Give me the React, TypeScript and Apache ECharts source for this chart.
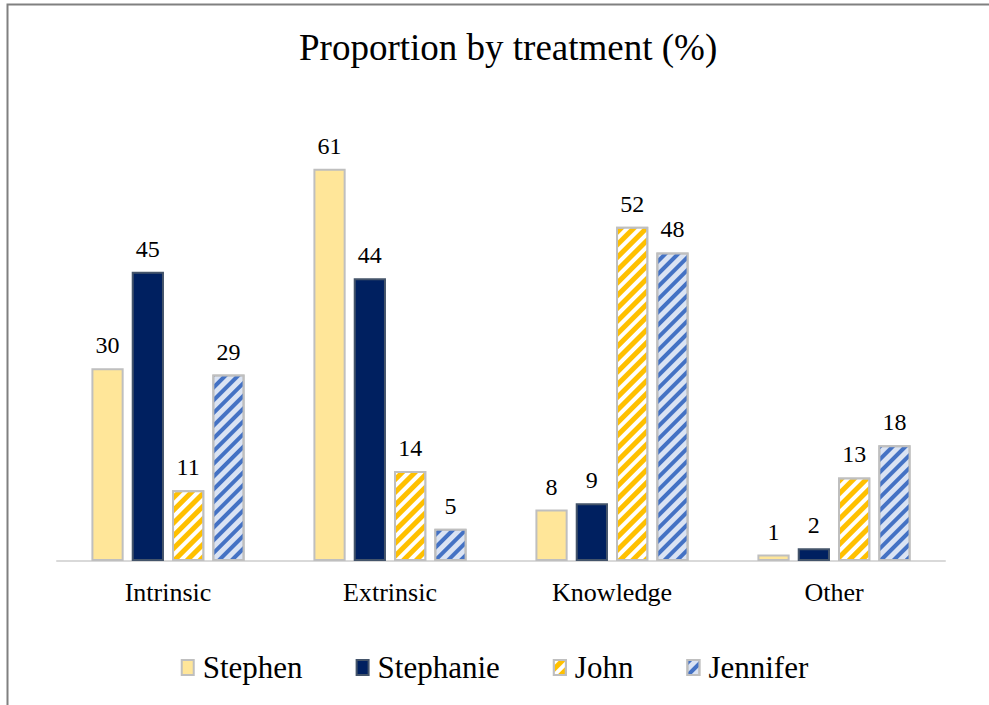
import React, { useEffect, useRef } from "react";
import * as echarts from "echarts";

const categories = ["Intrinsic", "Extrinsic", "Knowledge", "Other"];
const seriesNames = ["Stephen", "Stephanie", "John", "Jennifer"];
const stephen = [30, 61, 8, 1];
const stephanie = [45, 44, 9, 2];
const john = [11, 14, 52, 13];
const jennifer = [29, 5, 48, 18];

const FONT = "Liberation Serif, Times New Roman, serif";

export default function App() {
  const ref = useRef<HTMLDivElement>(null);
  useEffect(() => {
    const chart = echarts.init(ref.current!, null, { renderer: "svg" });
    const label = {
      show: true,
      position: "top" as const,
      distance: 11,
      color: "#000",
      fontFamily: FONT,
      fontSize: 24,
    };
    const styles = [
      { color: "#FFE699", borderColor: "#BFBFBF", borderWidth: 2 },
      { color: "#002060", borderColor: "#44546A", borderWidth: 2 },
      {
        color: "#FFC000",
        borderColor: "#BFBFBF",
        borderWidth: 2,
        decal: {
          symbol: "rect",
          color: "#FFFFFF",
          dashArrayX: [1, 0],
          dashArrayY: [4, 5],
          rotation: -Math.PI / 4,
        },
      },
      {
        color: "#DAE3F3",
        borderColor: "#BFBFBF",
        borderWidth: 2,
        decal: {
          symbol: "rect",
          color: "#4472C4",
          dashArrayX: [1, 0],
          dashArrayY: [4, 5],
          rotation: -Math.PI / 4,
        },
      },
    ];
    const data = [stephen, stephanie, john, jennifer];
    chart.setOption({
      animation: false,
      aria: { enabled: false, decal: { show: true } },
      title: {
        text: "Proportion by treatment (%)",
        left: 294,
        top: 24,
        textStyle: { fontFamily: FONT, fontSize: 37, fontWeight: "normal", color: "#000" },
      },
      legend: {
        top: 647,
        left: "center",
        icon: "rect",
        itemWidth: 12,
        itemHeight: 15,
        itemGap: 53,
        textStyle: { fontFamily: FONT, fontSize: 31, color: "#000", padding: [0, 0, 0, 4] },
        data: seriesNames,
      },
      grid: { left: 57, right: 44, top: 111, bottom: 144, containLabel: false },
      xAxis: {
        type: "category",
        data: categories,
        axisLine: { lineStyle: { color: "#D9D9D9", width: 2 } },
        axisTick: { show: false },
        axisLabel: { fontFamily: FONT, fontSize: 26, color: "#000", margin: 18 },
      },
      yAxis: {
        type: "value",
        min: 0,
        max: 70,
        show: false,
        splitLine: { show: false },
      },
      series: seriesNames.map((name, i) => ({
        name,
        type: "bar",
        data: data[i],
        barGap: "25%",
        barCategoryGap: "31%",
        itemStyle: styles[i],
        label,
      })),
      graphic: [
        {
          type: "polyline",
          shape: { points: [[7.5, 705], [7.5, 4.5], [989, 4.5]] },
          style: { stroke: "#808080", lineWidth: 2, fill: null },
          silent: true,
        },
      ],
    });
    return () => chart.dispose();
  }, []);
  return (
    <div
      ref={ref}
      style={{ position: "absolute", left: 0, top: 0, width: 989, height: 705, background: "#fff" }}
    />
  );
}
